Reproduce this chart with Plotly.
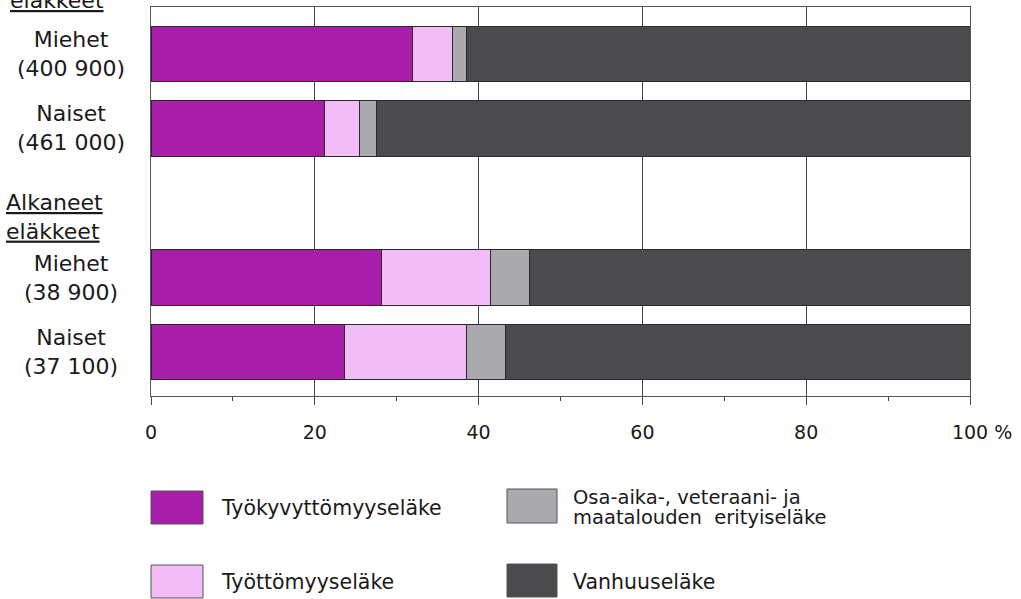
import plotly.graph_objects as go

# ---- data ----
row_labels = ["Miehet<br>(400 900)", "Naiset<br>(461 000)", "Miehet<br>(38 900)", "Naiset<br>(37 100)"]
row_pos = [0, 1, 3, 4]
series_names = ["Työkyvyttömyyseläke", "Työttömyyseläke",
                "Osa-aika-, veteraani- ja maatalouden erityiseläke", "Vanhuuseläke"]
tyokyvyttomyys = [31.9, 21.2, 28.2, 23.6]
tyottomyys = [4.9, 4.3, 13.2, 14.9]
osa_aika = [1.7, 2.0, 4.8, 4.8]
vanhuus = [61.5, 72.5, 53.8, 56.7]
x_tick_vals = [0, 20, 40, 60, 80, 100]
x_tick_text = ["0", "20", "40", "60", "80", "\u2007\u2007100\u00a0%"]

colors = ["#A81EA8", "#F2BCF6", "#AAAAAE", "#4B4B4E"]
series_vals = [tyokyvyttomyys, tyottomyys, osa_aika, vanhuus]

W, H = 1021, 599
L, R, T, B = 151, 51, 7, 203
PW, PH = W - L - R, H - T - B
FONT = "DejaVu Sans"


def px2x(px):
    return (px - L) / PW


def px2y(py):
    return 1 - (py - T) / PH


fig = go.Figure()
for name, vals, col in zip(series_names, series_vals, colors):
    fig.add_trace(go.Bar(
        y=row_pos, x=vals, orientation="h", name=name,
        marker=dict(color=col, line=dict(color="#2a2a2a", width=1)),
        width=0.75, showlegend=False,
    ))

fig.update_layout(
    width=W, height=H,
    margin=dict(l=L, r=R, t=T, b=B),
    barmode="stack",
    plot_bgcolor="white", paper_bgcolor="white",
    font=dict(family=FONT, color="#1a1a1a"),
    showlegend=False,
)
fig.update_xaxes(
    range=[0, 100], tickvals=x_tick_vals, ticktext=x_tick_text,
    showgrid=True, gridcolor="#444444", gridwidth=1,
    showline=True, linecolor="#555555", linewidth=1, mirror=True,
    ticks="outside", ticklen=8, tickcolor="#444444",
    minor=dict(dtick=10, tick0=0, ticks="outside", ticklen=4, tickcolor="#444444", showgrid=False),
    tickfont=dict(family=FONT, size=19, color="#1a1a1a"),
    ticklabelstandoff=11, zeroline=False,
)
fig.update_yaxes(
    range=[4.59, -0.63], showgrid=False, showticklabels=False,
    showline=True, linecolor="#555555", linewidth=1, mirror=True,
    zeroline=False, ticks="",
)

# row labels
for pos, lab in zip(row_pos, row_labels):
    fig.add_annotation(x=px2x(71), xref="paper", y=pos, yref="y", text=lab,
                       showarrow=False, align="center", xanchor="center", yanchor="middle",
                       font=dict(family=FONT, size=22, color="#1a1a1a"))

# group headings
fig.add_annotation(x=px2x(4), xref="paper", y=px2y(217), yref="paper",
                   text="<u>Alkaneet</u><br><u>eläkkeet</u>", showarrow=False,
                   align="left", xanchor="left", yanchor="middle",
                   font=dict(family=FONT, size=22, color="#1a1a1a"))
fig.add_annotation(x=px2x(8), xref="paper", y=px2y(15), yref="paper",
                   text="<u>eläkkeet</u>", showarrow=False,
                   align="left", xanchor="left", yanchor="bottom",
                   font=dict(family=FONT, size=22, color="#1a1a1a"))

# legend (drawn manually)
legend_items = [
    (151, 203, 491, 524, colors[0]),
    (151, 203, 565, 598, colors[1]),
    (507, 557, 489, 523, colors[2]),
    (507, 557, 564, 597, colors[3]),
]
for x0, x1, y0, y1, col in legend_items:
    fig.add_shape(type="rect", xref="paper", yref="paper",
                  x0=px2x(x0), x1=px2x(x1), y0=px2y(y1), y1=px2y(y0),
                  fillcolor=col, line=dict(color="#555555", width=1))

leg_font = dict(family=FONT, size=20.5, color="#1a1a1a")
fig.add_annotation(x=px2x(219), xref="paper", y=px2y(508), yref="paper",
                   text=series_names[0], showarrow=False, xanchor="left", yanchor="middle", font=leg_font)
fig.add_annotation(x=px2x(219), xref="paper", y=px2y(582), yref="paper",
                   text=series_names[1], showarrow=False, xanchor="left", yanchor="middle", font=leg_font)
fig.add_annotation(x=px2x(571), xref="paper", y=px2y(498), yref="paper",
                   text="Osa-aika-, veteraani- ja", showarrow=False, xanchor="left", yanchor="middle",
                   font=dict(family=FONT, size=19.5, color="#1a1a1a"))
fig.add_annotation(x=px2x(571), xref="paper", y=px2y(517), yref="paper",
                   text="maatalouden  erityiseläke", showarrow=False, xanchor="left", yanchor="middle",
                   font=dict(family=FONT, size=19.5, color="#1a1a1a"))
fig.add_annotation(x=px2x(571), xref="paper", y=px2y(582), yref="paper",
                   text=series_names[3], showarrow=False, xanchor="left", yanchor="middle", font=leg_font)

fig.write_html(
    "out.html",
    config={"displayModeBar": False},
    post_script="document.body.style.margin='0';document.body.style.padding='0';"
                "document.body.style.overflow='hidden';",
)
